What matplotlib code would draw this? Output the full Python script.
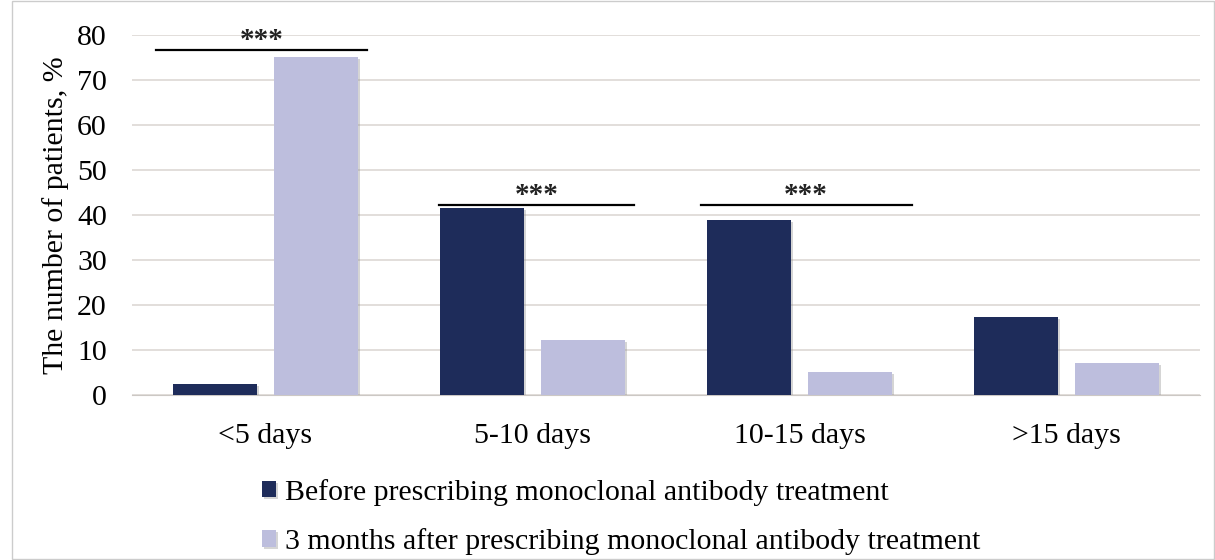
import matplotlib.pyplot as plt
import matplotlib.patheffects as pe
import numpy as np

categories = ['<5 days', '5-10 days', '10-15 days', '>15 days']
before = [2.4, 41.5, 38.9, 17.3]
after = [75.2, 12.2, 5.2, 7.2]
labels = ['Before prescribing monoclonal antibody treatment',
          '3 months after prescribing monoclonal antibody treatment']
# significance brackets: (x start, x end, y)
sig_x = [(-0.41, 0.38), (0.65, 1.38), (1.63, 2.42)]
sig_y = [76.7, 42.2, 42.2]

plt.rcParams['font.family'] = ['Liberation Serif', 'DejaVu Serif']

fig = plt.figure(figsize=(12.15, 5.6), dpi=100)
ax = fig.add_axes([132/1215, 1-395/560, (1200-132)/1215, 360/560])

x = np.arange(len(categories))
w = 0.315
c1, c2 = '#1e2c5a', '#bdbedd'
shadow = [pe.SimplePatchShadow(offset=(1.5, -1.5), shadow_rgbFace='#888888', alpha=0.35), pe.Normal()]
b1 = ax.bar(x - 0.19, before, w, color=c1, label=labels[0], zorder=3)
b2 = ax.bar(x + 0.19, after, w, color=c2, label=labels[1], zorder=3)
for p in list(b1) + list(b2):
    p.set_path_effects(shadow)

for (a, b), yy in zip(sig_x, sig_y):
    ax.plot([a, b], [yy, yy], color='black', lw=1.6, zorder=4)
    ax.text((a + b) / 2, yy - 0.9, '***', ha='center', va='bottom', fontsize=21,
            fontweight='bold', color='#222222', zorder=4)

ax.set_xlim(-0.5, 3.5)
ax.set_ylim(0, 80)
ax.set_yticks(range(0, 81, 10))
ax.set_xticks(x)
ax.set_xticklabels(categories)
ax.tick_params(axis='both', length=0, labelsize=21.5)
ax.tick_params(axis='x', pad=20)
ax.tick_params(axis='y', pad=18)
ax.grid(axis='y', color='#ddd8d4', lw=1.2, zorder=0)
for s in ['top', 'right', 'left']:
    ax.spines[s].set_visible(False)
ax.spines['bottom'].set_color('#ccc8c4')
ax.set_ylabel('The number of patients, %', fontsize=21.5, labelpad=6)

fig.legend(loc='center left', bbox_to_anchor=(262/1215, 1-517/560), frameon=False,
           fontsize=21.5, handlelength=0.47, handleheight=0.47, handletextpad=0.3,
           labelspacing=0.75, borderaxespad=0, borderpad=0)

fig.patches.append(plt.Rectangle((12/1215, 0.002), 1-13/1215, 0.996, transform=fig.transFigure,
                                 fill=False, edgecolor='#cccccc', lw=1))

fig.savefig('out.png', dpi=100)
